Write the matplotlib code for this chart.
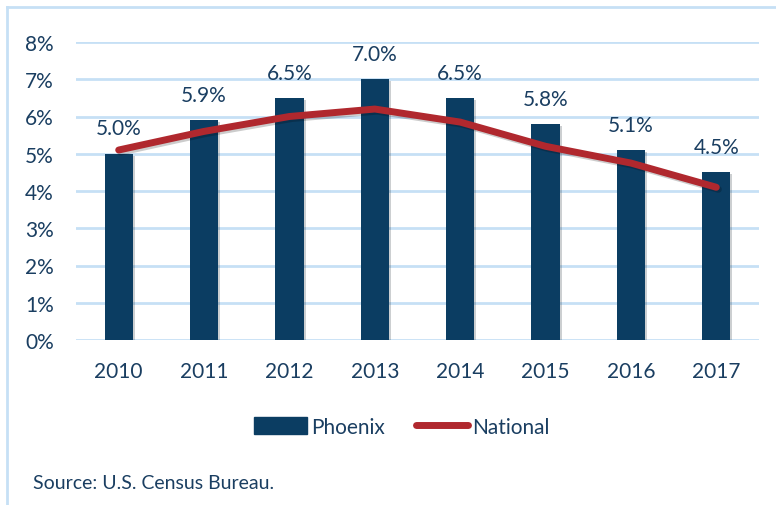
import matplotlib.pyplot as plt
import matplotlib.patheffects as pe
from matplotlib.lines import Line2D
from matplotlib.patches import Patch

plt.rcParams['font.family'] = ['Lato', 'DejaVu Sans']

years = ['2010', '2011', '2012', '2013', '2014', '2015', '2016', '2017']
phoenix = [5.0, 5.9, 6.5, 7.0, 6.5, 5.8, 5.1, 4.5]
national = [5.1, 5.6, 6.0, 6.2, 5.85, 5.2, 4.75, 4.1]

navy = '#0B3D62'
red = '#B0282E'
text_col = '#1A3E61'
grid_col = '#C6E0F5'

fig = plt.figure(figsize=(7.76, 5.06), dpi=100)
ax = fig.add_axes([76 / 776, 1 - 341 / 506, (759 - 76) / 776, (341 - 43) / 506])

x = range(len(years))
shadow = [pe.SimplePatchShadow(offset=(1.5, -1.5), alpha=0.2), pe.Normal()]
bars = ax.bar(x, phoenix, width=0.33, color=navy, zorder=2, path_effects=shadow)
ax.plot(x, national, color=red, lw=5, solid_capstyle='round', zorder=3,
        path_effects=[pe.SimpleLineShadow(offset=(1.5, -1.5), alpha=0.2), pe.Normal()])

for i, v in enumerate(phoenix):
    ax.annotate(f'{v:.1f}%', (i, v), xytext=(0, 11), textcoords='offset points',
                ha='center', va='bottom', fontsize=15, color=text_col)

ax.set_xlim(-0.5, len(years) - 0.5)
ax.set_ylim(0, 8)
ax.set_yticks(range(0, 9))
ax.set_yticklabels([f'{t}%' for t in range(0, 9)])
ax.set_xticks(list(x))
ax.set_xticklabels(years)
ax.tick_params(length=0, labelsize=15, labelcolor=text_col)
ax.tick_params(axis='x', pad=15)
ax.tick_params(axis='y', pad=16)
ax.yaxis.grid(True, color=grid_col, lw=2)
ax.set_axisbelow(True)
for s in ax.spines.values():
    s.set_visible(False)

handles = [Patch(color=navy), Line2D([0], [0], color=red, lw=5, solid_capstyle='round')]
fig.legend(handles, ['Phoenix', 'National'], loc='center', bbox_to_anchor=(0.518, 1 - 428 / 506),
           ncol=2, frameon=False, fontsize=15, labelcolor=text_col,
           handlelength=2.5, handleheight=0.9, handletextpad=0.2, columnspacing=1.5)

fig.text(33 / 776, 1 - 484 / 506, 'Source: U.S. Census Bureau.', fontsize=14,
         color=text_col, va='center', ha='left')

# light blue frame (left and top edges)
fig.add_artist(Line2D([7 / 776, 7 / 776], [0, 1 - 8 / 506], color=grid_col, lw=2))
fig.add_artist(Line2D([7 / 776, 1], [1 - 8 / 506, 1 - 8 / 506], color=grid_col, lw=2))

fig.savefig('out.png', dpi=100)
